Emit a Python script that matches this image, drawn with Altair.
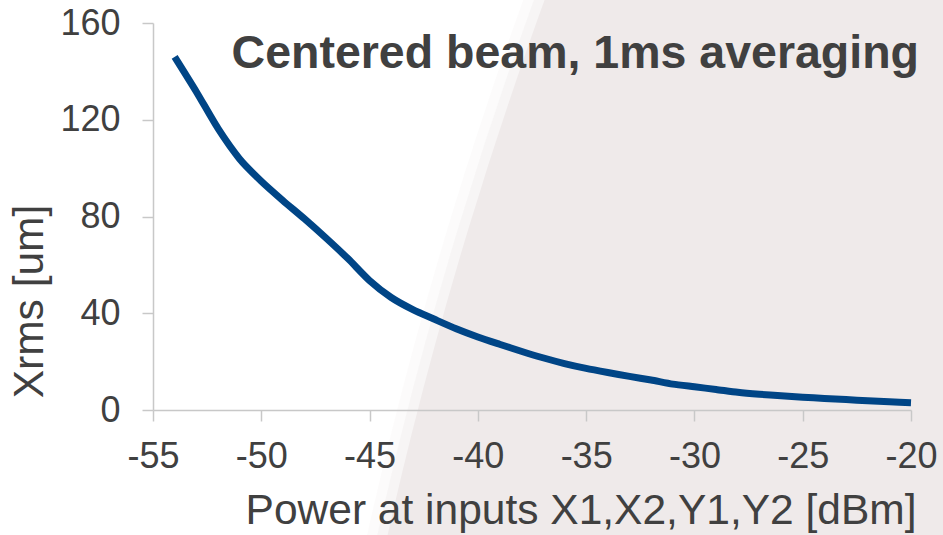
import altair as alt
import pandas as pd

# Data
power_dbm = [-54, -53, -52, -51, -50, -49, -48, -47, -46, -45, -44, -43, -42, -41,
             -40, -39, -38, -37, -36, -35, -34, -33, -32, -31, -30, -29, -28, -27,
             -26, -25, -24, -23, -22, -21, -20]
xrms_um = [146, 131.6, 116.4, 103.8, 94.6, 86.6, 79.0, 71.0, 62.6, 53.5, 46.5, 41.5, 37.5, 33.6,
           30.2, 27.2, 24.3, 21.6, 19.2, 17.2, 15.5, 13.9, 12.4, 10.7, 9.6, 8.5, 7.3, 6.5,
           5.9, 5.3, 4.8, 4.3, 3.8, 3.4, 3.0]
x_ticks = [-55, -50, -45, -40, -35, -30, -25, -20]
y_ticks = [0, 40, 80, 120, 160]
title_text = ["Centered beam, 1ms averaging"]

df = pd.DataFrame({"power": power_dbm, "xrms": xrms_um})

FONT = "Liberation Sans"
TXT = "#404040"
AX = "#c8c8c8"

W, H = 758, 387
PAD = {"left": 153, "top": 23, "right": 32, "bottom": 125}

# decorative slide background (large soft disc on the right)
bg_df = pd.DataFrame({"k": [0]})
CX, CY, R = 4517, 1478, 4390
bg_layers = []
for extra, op in [(20, 0.2), (10, 0.35), (0, 1.0)]:
    bg_layers.append(
        alt.Chart(bg_df).mark_arc(
            theta=0, theta2=6.2832, innerRadius=0, outerRadius=R + extra,
            color="#efeaea", opacity=op, strokeWidth=0
        ).encode(x=alt.value(CX), y=alt.value(CY))
    )

line = alt.Chart(df).mark_line(
    color="#004586", strokeWidth=7, interpolate="cardinal", tension=0.3,
    strokeCap="butt"
).encode(
    x=alt.X("power:Q",
            scale=alt.Scale(domain=[-55, -20], nice=False, zero=False),
            axis=alt.Axis(values=x_ticks, title="Power at inputs X1,X2,Y1,Y2 [dBm]",
                          grid=False, tickSize=11, labelPadding=18, labelFlush=False,
                          labelOverlap=False,
                          labelExpr="toString(datum.value)",
                          titleX=763, titleAlign="right", titleY=113,
                          titleBaseline="alphabetic", titleAnchor="end", zindex=1)),
    y=alt.Y("xrms:Q",
            scale=alt.Scale(domain=[0, 160], nice=False),
            axis=alt.Axis(values=y_ticks, title="Xrms [um]", grid=False,
                          tickSize=11, labelPadding=22, labelFlush=False,
                          labelOverlap=False,
                          labelExpr="toString(datum.value)",
                          titleX=-111, titleY=278, titleAngle=-90,
                          titleAlign="center", titleBaseline="alphabetic", zindex=1)),
)

title = alt.Chart(pd.DataFrame({"t": title_text})).mark_text(
    align="right", baseline="alphabetic", fontSize=46.5, fontWeight="bold",
    font=FONT, color=TXT
).encode(text="t:N", x=alt.value(766), y=alt.value(45))

chart = alt.layer(*bg_layers, line, title).properties(
    width=W, height=H,
    padding=PAD,
    autosize=alt.AutoSizeParams(type="none"),
    background="white",
).configure_view(stroke=None).configure_axis(
    labelFont=FONT, titleFont=FONT, labelFontSize=36, titleFontSize=42.5,
    labelColor=TXT, titleColor=TXT, titleFontWeight="normal",
    domainColor=AX, tickColor=AX, domainWidth=1.5, tickWidth=1.5
)

chart.save("out.html", embed_options={"renderer": "svg", "actions": False})
